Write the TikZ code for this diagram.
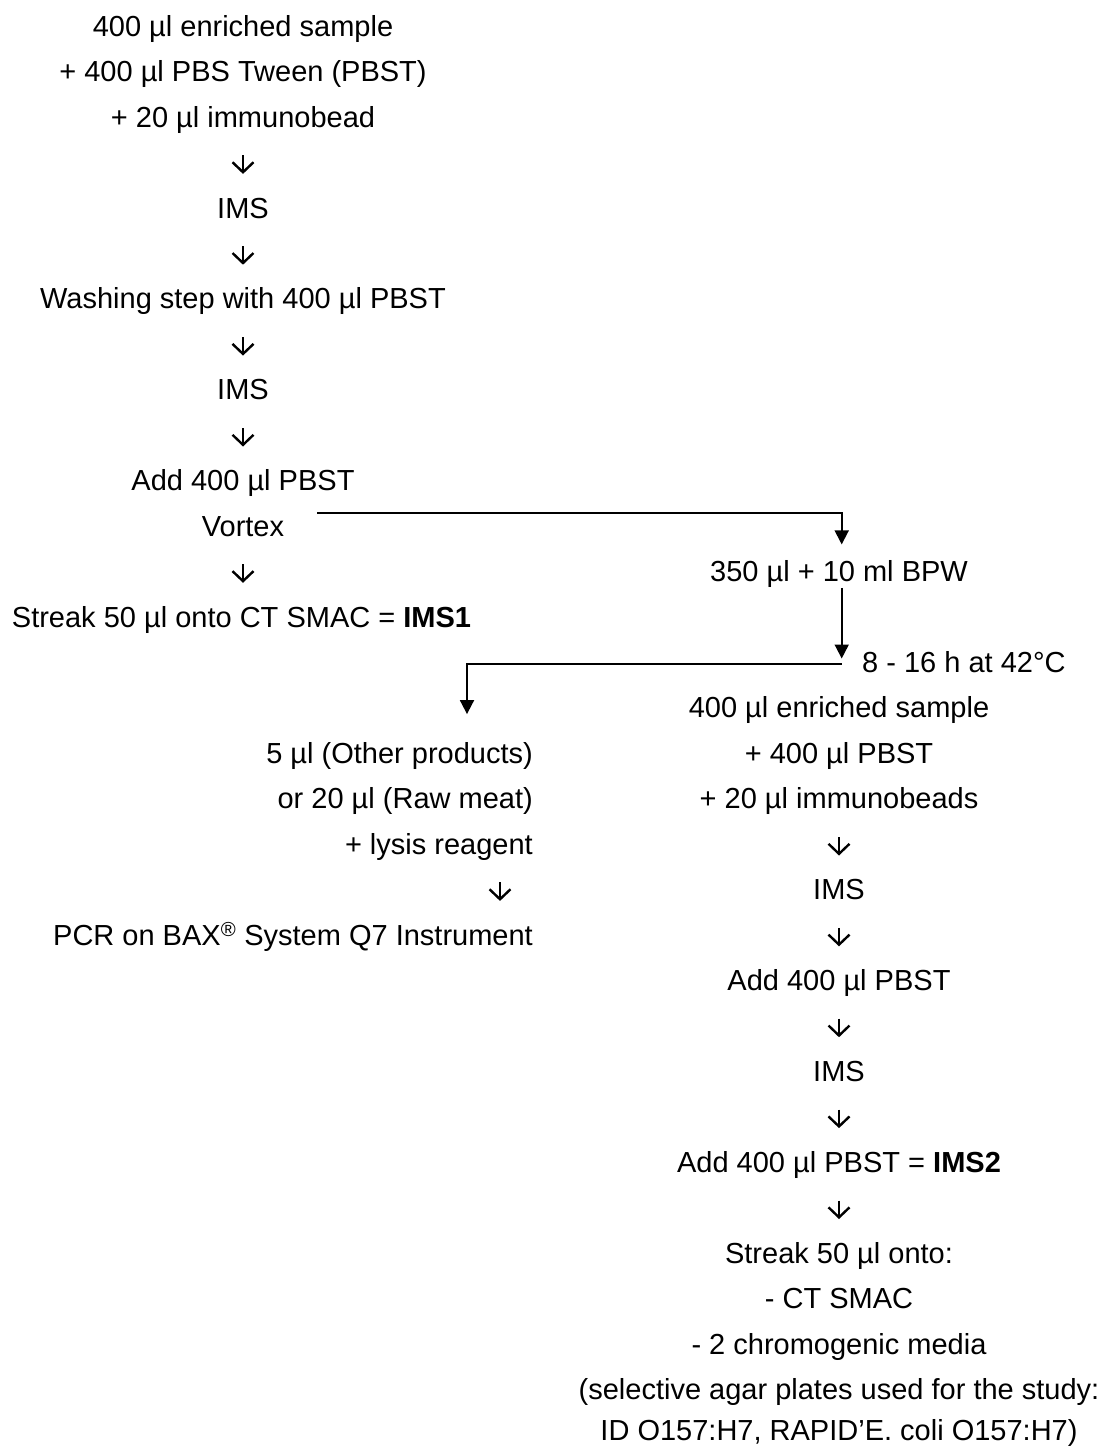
\documentclass[tikz,border=0pt]{standalone}
\usepackage{fontspec}
\setmainfont{Liberation Sans}
\usetikzlibrary{arrows.meta,calc}
\begin{document}
\begin{tikzpicture}[x=1pt,y=-1pt,
  txt/.style={font=\fontsize{29}{34}\selectfont, inner sep=0pt, text height=21pt, text depth=6pt, anchor=base},
  rtxt/.style={txt, anchor=base east},
  ltxt/.style={txt, anchor=base west},
  chev/.style={line width=2.4pt, -{Straight Barb[length=10pt,width=21pt]}, shorten <=22pt, shorten >=23pt},
  conn/.style={line width=1.8pt, -{Triangle[length=14pt,width=14pt]}}
  ]
\useasboundingbox (0,0) rectangle (1105,1447);
% left column
\node[txt] (l0) at (243,36.3) {400 µl enriched sample};
\node[txt] (l1) at (243,81.7) {+ 400 µl PBS Tween (PBST)};
\node[txt] (l2) at (243,127.2) {+ 20 µl immunobead};
\node[txt] (l4) at (243,218.1) {IMS};
\node[txt] (l6) at (243,308.9) {Washing step with 400 µl PBST};
\node[txt] (l8) at (243,399.8) {IMS};
\node[txt] (l10) at (243,490.7) {Add 400 µl PBST};
\node[txt] (vortex) at (243,536.1) {Vortex};
\node[txt] (l13) at (241.5,627.0) {Streak 50 µl onto CT SMAC = \textbf{IMS1}};
% right column
\node[txt] (bpw) at (839,581.6) {350 µl + 10 ml BPW};
\node[ltxt] (hrs) at (862,672.5) {8 - 16 h at 42°C};
\node[txt] (r15) at (839,717.9) {400 µl enriched sample};
\node[txt] (r16) at (839,763.3) {+ 400 µl PBST};
\node[txt] (r17) at (839,808.8) {+ 20 µl immunobeads};
\node[txt] (r19) at (839,899.7) {IMS};
\node[txt] (r21) at (839,990.5) {Add 400 µl PBST};
\node[txt] (r23) at (839,1081.4) {IMS};
\node[txt] (r25) at (839,1172.3) {Add 400 µl PBST = \textbf{IMS2}};
\node[txt] (r27) at (839,1263.2) {Streak 50 µl onto:};
\node[txt] (r28) at (839,1308.6) {- CT SMAC};
\node[txt] (r29) at (839,1354.1) {- 2 chromogenic media};
\node[txt] (r30) at (839,1399.5) {(selective agar plates used for the study:};
\node[txt] (r31) at (839,1440.0) {ID O157:H7, RAPID’E. coli O157:H7)};
% middle column
\node[rtxt] (p5) at (533,763.3) {5 µl (Other products)};
\node[rtxt] (p20) at (533,808.8) {or 20 µl (Raw meat)};
\node[rtxt] (lysis) at (533,854.2) {+ lysis reagent};
\node[rtxt] (pcr) at (533,945.1) {PCR on BAX\textsuperscript{®} System Q7 Instrument};
% step arrows
\draw[chev] (l2.south) -- (l4.north);
\draw[chev] (l4.south) -- (l6.north);
\draw[chev] (l6.south) -- (l8.north);
\draw[chev] (l8.south) -- (l10.north);
\draw[chev] (vortex.south) -- (vortex.south |- l13.north);
\draw[chev] (r17.south) -- (r19.north);
\draw[chev] (r19.south) -- (r21.north);
\draw[chev] (r21.south) -- (r23.north);
\draw[chev] (r23.south) -- (r25.north);
\draw[chev] (r25.south) -- (r27.north);
\draw[chev] ($(lysis.south east)+(-33,0)$) -- ($(pcr.north east)+(-33,0)$);
% connectors
\coordinate (s1) at ($(vortex.north east)+(33,-2)$);
\coordinate (t1) at ($(bpw.north)+(2.7,-16)$);
\draw[conn] (s1) -| (t1);
\coordinate (s2) at ($(bpw.south)+(2.7,0)$);
\coordinate (t2) at ($(hrs.base west)+(-20.3,-14)$);
\draw[conn] (s2) -- (t2);
\coordinate (s3) at ($(hrs.base west)+(-20.3,-8.4)$);
\coordinate (t3) at ($(p5.north east)+(-66,-28)$);
\draw[conn] (s3) -| (t3);
\end{tikzpicture}
\end{document}
